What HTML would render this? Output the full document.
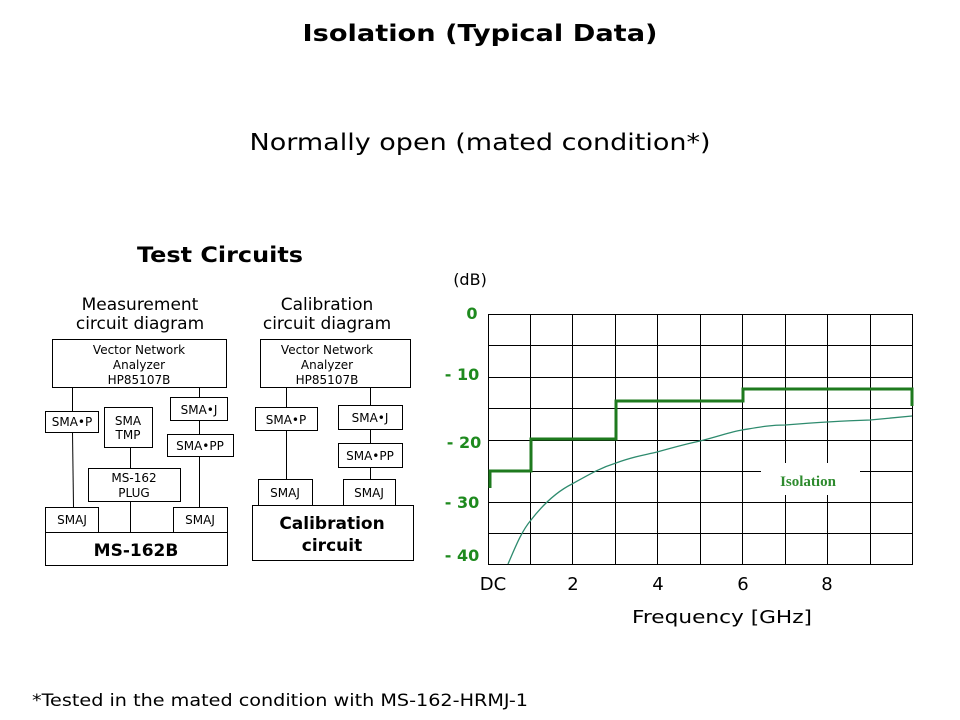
<!DOCTYPE html>
<html><head><meta charset="utf-8"><style>
html,body{margin:0;padding:0;background:#fff}
svg{display:block}
text{font-family:"DejaVu Sans","Liberation Sans",sans-serif}
</style></head><body>
<svg width="960" height="720" viewBox="0 0 960 720" xmlns="http://www.w3.org/2000/svg">
<rect width="960" height="720" fill="#fff"/>
<text x="480" y="41" text-anchor="middle" font-size="23" font-weight="bold" textLength="355" lengthAdjust="spacingAndGlyphs">Isolation (Typical Data)</text>
<text x="480" y="150" text-anchor="middle" font-size="23" textLength="461" lengthAdjust="spacingAndGlyphs">Normally open (mated condition*)</text>
<text x="220" y="262" text-anchor="middle" font-size="21" font-weight="bold" textLength="166" lengthAdjust="spacingAndGlyphs">Test Circuits</text>

<g font-size="17" text-anchor="middle">
<text x="140" y="310">Measurement</text><text x="140" y="329">circuit diagram</text>
<text x="327" y="310">Calibration</text><text x="327" y="329">circuit diagram</text>
</g>

<g stroke="#000" stroke-width="1" fill="#fff">
<rect x="52.5" y="339.5" width="174" height="48"/>
<rect x="45.5" y="411.5" width="53" height="21"/>
<rect x="104.5" y="407.5" width="48" height="40"/>
<rect x="170.5" y="397.5" width="57" height="23"/>
<rect x="167.5" y="434.5" width="66" height="22"/>
<rect x="88.5" y="468.5" width="92" height="33"/>
<rect x="45.5" y="507.5" width="53" height="25"/>
<rect x="173.5" y="507.5" width="54" height="25"/>
<rect x="45.5" y="532.5" width="182" height="33"/>
<line x1="72.5" y1="387" x2="72.5" y2="411"/><line x1="72.5" y1="432" x2="73.5" y2="507"/>
<line x1="130.5" y1="447" x2="130.5" y2="468"/><line x1="130.5" y1="501" x2="130.5" y2="532"/>
<line x1="199.5" y1="387" x2="199.5" y2="397"/><line x1="199.5" y1="420" x2="199.5" y2="434"/><line x1="199.5" y1="456" x2="199.5" y2="507"/>

<rect x="260.5" y="339.5" width="150" height="48"/>
<rect x="255.5" y="407.5" width="62" height="23"/>
<rect x="338.5" y="405.5" width="64" height="24"/>
<rect x="338.5" y="443.5" width="64" height="24"/>
<rect x="258.5" y="479.5" width="54" height="26"/>
<rect x="343.5" y="479.5" width="52" height="26"/>
<rect x="252.5" y="505.5" width="161" height="55"/>
<line x1="286.5" y1="387" x2="286.5" y2="407"/><line x1="286.5" y1="430" x2="286.5" y2="479"/>
<line x1="370.5" y1="387" x2="370.5" y2="405"/><line x1="370.5" y1="429" x2="370.5" y2="443"/><line x1="370.5" y1="467" x2="370.5" y2="479"/>
</g>
<g font-size="12" text-anchor="middle">
<text x="139" y="354">Vector Network</text><text x="139" y="369">Analyzer</text><text x="139" y="384">HP85107B</text>
<text x="72" y="426">SMA•P</text>
<text x="128" y="425">SMA</text><text x="128" y="439">TMP</text>
<text x="199" y="414">SMA•J</text>
<text x="200" y="450">SMA•PP</text>
<text x="134" y="482">MS-162</text><text x="134" y="497">PLUG</text>
<text x="72" y="524">SMAJ</text><text x="200" y="524">SMAJ</text>
<text x="327" y="354">Vector Network</text><text x="327" y="369">Analyzer</text><text x="327" y="384">HP85107B</text>
<text x="286" y="424">SMA•P</text>
<text x="370" y="422">SMA•J</text>
<text x="370" y="460">SMA•PP</text>
<text x="285" y="497">SMAJ</text><text x="369" y="497">SMAJ</text>
</g>
<text x="136" y="556" text-anchor="middle" font-size="17" font-weight="bold">MS-162B</text>
<text x="332" y="529" text-anchor="middle" font-size="17" font-weight="bold">Calibration</text>
<text x="332" y="551" text-anchor="middle" font-size="17" font-weight="bold">circuit</text>

<!-- chart -->
<text x="470" y="285" text-anchor="middle" font-size="16">(dB)</text>
<g stroke="#000" stroke-width="1" fill="none">
<rect x="488.5" y="314.5" width="424" height="250"/>
<line x1="530.5" y1="314" x2="530.5" y2="564"/><line x1="572.5" y1="314" x2="572.5" y2="564"/>
<line x1="615.5" y1="314" x2="615.5" y2="564"/><line x1="657.5" y1="314" x2="657.5" y2="564"/>
<line x1="700.5" y1="314" x2="700.5" y2="564"/><line x1="742.5" y1="314" x2="742.5" y2="564"/>
<line x1="785.5" y1="314" x2="785.5" y2="564"/><line x1="827.5" y1="314" x2="827.5" y2="564"/>
<line x1="870.5" y1="314" x2="870.5" y2="564"/>
<line x1="488" y1="345.5" x2="912" y2="345.5"/><line x1="488" y1="377.5" x2="912" y2="377.5"/>
<line x1="488" y1="408.5" x2="912" y2="408.5"/><line x1="488" y1="440.5" x2="912" y2="440.5"/>
<line x1="488" y1="471.5" x2="912" y2="471.5"/><line x1="488" y1="502.5" x2="912" y2="502.5"/>
<line x1="488" y1="533.5" x2="912" y2="533.5"/>
</g>
<rect x="761" y="463" width="99" height="32" fill="#fff"/>
<text x="808" y="486" text-anchor="middle" font-size="15" font-weight="bold" fill="#2e8b2e" style="font-family:'Liberation Serif',serif">Isolation</text>
<path d="M508,564 C515,548 521,532 531,520 C545,502 558,491 572,484 C590,474 600,468 616,463 C635,456 645,455 657,452 C675,447 690,443 700,441 C720,436 730,432 742,430 C760,427 770,425 785,425 C810,423 840,421 870,420 L912,416" fill="none" stroke="#2e8b6e" stroke-width="1.3"/>
<path d="M490,488 V471 H531 V439 H616 V401 H743 V389 H912 V406" fill="none" stroke="#1e7a1e" stroke-width="3"/>
<g fill="#1e8a1e" font-weight="bold" font-size="16" text-anchor="middle">
<text x="472" y="319">0</text>
<text x="462" y="380">- 10</text>
<text x="464" y="448">- 20</text>
<text x="462" y="508">- 30</text>
<text x="462" y="561">- 40</text>
</g>
<g font-size="18" text-anchor="middle">
<text x="493" y="590">DC</text><text x="573" y="590">2</text><text x="658" y="590">4</text><text x="743" y="590">6</text><text x="827" y="590">8</text>
<text x="722" y="623" textLength="180" lengthAdjust="spacingAndGlyphs">Frequency [GHz]</text>
</g>
<text x="32" y="706" font-size="17" textLength="496" lengthAdjust="spacingAndGlyphs">*Tested in the mated condition with MS-162-HRMJ-1</text>
</svg>
</body></html>
